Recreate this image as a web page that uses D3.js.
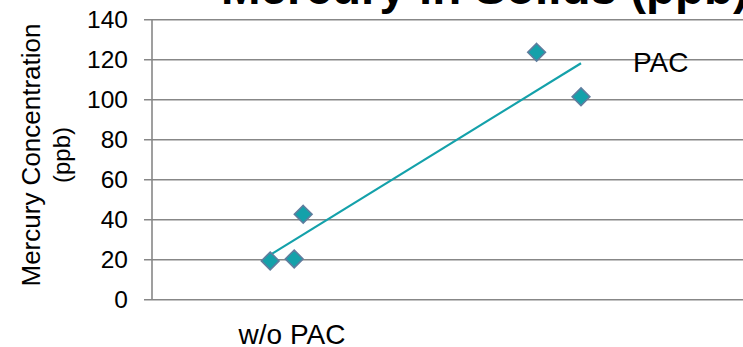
<!DOCTYPE html>
<html>
<head>
<meta charset="utf-8">
<script src="https://cdn.jsdelivr.net/npm/d3@7"></script>
<style>
  html, body { margin: 0; padding: 0; background: #fff; }
  svg { display: block; font-family: "Liberation Sans", Arial, sans-serif; }
</style>
</head>
<body>
<svg id="chart" width="743" height="347"></svg>
<script>
// Sample positions along the run and measured mercury in solids (ppb)
const sampleX = [19.7, 23.7, 25.2, 64.1, 71.5];
const mercuryPpb = [19.2, 20.2, 42.5, 123.5, 101.3];
const yTicks = [0, 20, 40, 60, 80, 100, 120, 140];
const titleText = "Mercury in Solids (ppb)";
const yTitleLines = ["Mercury Concentration", "(ppb)"];
const groupLabels = ["w/o PAC", "PAC"];

const svg = d3.select("#chart");
const W = 743;

const x = d3.scaleLinear().domain([0, 100]).range([152, 752]);
const y = d3.scaleLinear().domain([0, 140]).range([299.3, 19.3]);

const gridColor = "#878787";
const teal = "#14a1aa";

// Horizontal gridlines (they also form the tick marks left of the axis)
const grid = svg.append("g")
  .attr("transform", "translate(152,0)")
  .call(d3.axisLeft(y).tickValues(yTicks).tickSize(-(W - 152)).tickFormat(""));
grid.select(".domain").remove();
grid.selectAll(".tick line")
  .attr("stroke", gridColor).attr("stroke-width", 1.6)
  .attr("x1", -8);

// Vertical axis line
svg.append("line")
  .attr("x1", 152).attr("x2", 152)
  .attr("y1", y(140)).attr("y2", y(0))
  .attr("stroke", gridColor).attr("stroke-width", 1.6);

// Tick labels
svg.append("g").selectAll("text").data(yTicks).join("text")
  .attr("x", 128).attr("y", d => y(d) + 9)
  .attr("text-anchor", "end")
  .attr("font-size", 24.5).attr("fill", "#000")
  .text(d => d);

// Linear trendline fitted to the samples
const n = sampleX.length;
const mx = d3.mean(sampleX), my = d3.mean(mercuryPpb);
let sxy = 0, sxx = 0;
for (let i = 0; i < n; i++) {
  sxy += (sampleX[i] - mx) * (mercuryPpb[i] - my);
  sxx += (sampleX[i] - mx) ** 2;
}
const slope = sxy / sxx, intercept = my - slope * mx;
const [x0, x1] = d3.extent(sampleX);
svg.append("path")
  .datum([x0, x1])
  .attr("d", d3.line().x(d => x(d)).y(d => y(intercept + slope * d)))
  .attr("fill", "none").attr("stroke", teal).attr("stroke-width", 2.2);

// Diamond markers
const diamond = d3.symbol().type(d3.symbolDiamond2).size(200);
svg.append("g").selectAll("path").data(sampleX.map((v, i) => [v, mercuryPpb[i]])).join("path")
  .attr("transform", d => `translate(${x(d[0])},${y(d[1])})`)
  .attr("d", diamond)
  .attr("fill", teal).attr("stroke", "#5f7d9e").attr("stroke-width", 1.6);

// Title (extends past the top and right edges)
svg.append("text")
  .attr("x", 221).attr("y", 4)
  .attr("font-size", 47.5).attr("font-weight", "bold").attr("fill", "#000")
  .text(titleText);

// Y axis title
const yt = svg.append("text")
  .attr("transform", "translate(0,155) rotate(-90)")
  .attr("text-anchor", "middle")
  .attr("fill", "#000");
yt.append("tspan").attr("x", 0).attr("y", 40).attr("font-size", 26).text(yTitleLines[0]);
yt.append("tspan").attr("x", 0).attr("y", 69.5).attr("font-size", 24).text(yTitleLines[1]);

// Group labels
svg.append("text").attr("x", 292).attr("y", 344).attr("text-anchor", "middle")
  .attr("font-size", 28).attr("fill", "#000").text(groupLabels[0]);
svg.append("text").attr("x", 633).attr("y", 72)
  .attr("font-size", 28).attr("fill", "#000").text(groupLabels[1]);
</script>
</body>
</html>
